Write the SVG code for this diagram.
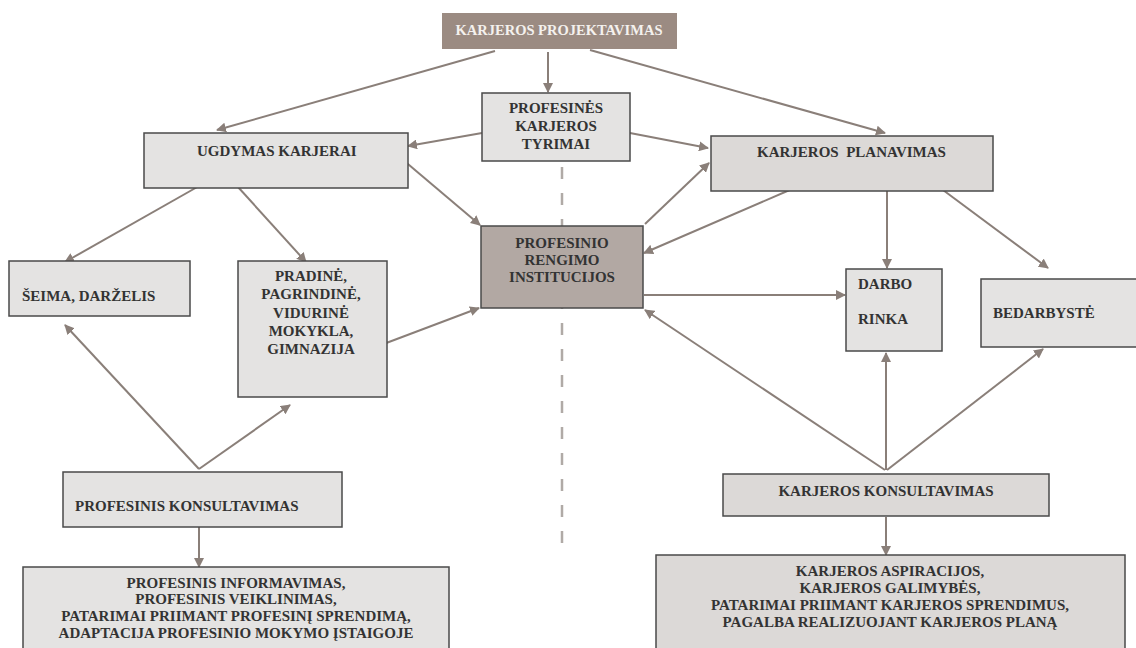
<svg xmlns="http://www.w3.org/2000/svg" width="1136" height="648" viewBox="0 0 1136 648">
<style>
.box{fill:#e4e3e2;stroke:#4a4a4a;stroke-width:1.5}
.mid{fill:#dcd9d7;stroke:#4a4a4a;stroke-width:1.5}
.dark{fill:#b2a8a3;stroke:#4a4a4a;stroke-width:1.5}
.top{fill:#9b8b82;stroke:none}
text{font-family:"Liberation Serif","Times New Roman",serif;font-weight:bold;font-size:15px;fill:#333}
.c{text-anchor:middle}
.w{fill:#f4f1ee;font-size:14.5px}
.conn line{stroke:#8a7f79;stroke-width:2;marker-end:url(#ah)}
</style>
<defs>
<marker id="ah" viewBox="0 0 10 10" refX="9" refY="5" markerWidth="5" markerHeight="5" orient="auto" markerUnits="strokeWidth">
<path d="M0,0 L10,5 L0,10 Z" fill="#8a7f79"/>
</marker>
</defs>
<rect width="1136" height="648" fill="#ffffff"/>
<line x1="562" y1="167" x2="562" y2="552" stroke="#b0aaa6" stroke-width="2.5" stroke-dasharray="12 14"/>
<g class="conn">
<line x1="495" y1="51" x2="217" y2="130"/>
<line x1="548" y1="52" x2="548" y2="92"/>
<line x1="590" y1="50" x2="885" y2="133"/>
<line x1="482" y1="133" x2="408" y2="146"/>
<line x1="630" y1="133" x2="708" y2="148"/>
<line x1="199" y1="186" x2="65" y2="262"/>
<line x1="238" y1="187" x2="306" y2="262"/>
<line x1="402" y1="159" x2="480" y2="225"/>
<line x1="373" y1="348" x2="479" y2="308"/>
<line x1="645" y1="224" x2="709" y2="163"/>
<line x1="792" y1="189" x2="644" y2="253"/>
<line x1="887" y1="191" x2="887" y2="268"/>
<line x1="943" y1="190" x2="1048" y2="268"/>
<line x1="644" y1="295" x2="845" y2="295"/>
<line x1="885" y1="470" x2="645" y2="310"/>
<line x1="886" y1="470" x2="886" y2="353"/>
<line x1="887" y1="470" x2="1043" y2="349"/>
<line x1="886" y1="517" x2="886" y2="555"/>
<line x1="199" y1="469" x2="65" y2="325"/>
<line x1="199" y1="469" x2="290" y2="405"/>
<line x1="199" y1="527" x2="199" y2="567"/>
</g>
<g id="projektavimas">
<rect class="top" x="442" y="13" width="235" height="36"/>
<text class="c w" x="559" y="35">KARJEROS PROJEKTAVIMAS</text>
</g>
<g id="tyrimai">
<rect class="box" x="482" y="93" width="148" height="68"/>
<text class="c" x="556" y="113">PROFESINĖS</text>
<text class="c" x="556" y="131">KARJEROS</text>
<text class="c" x="556" y="149">TYRIMAI</text>
</g>
<g id="ugdymas">
<rect class="box" x="144" y="133" width="264" height="55"/>
<text x="197" y="156">UGDYMAS KARJERAI</text>
</g>
<g id="seima">
<rect class="box" x="9" y="261" width="181" height="55"/>
<text x="22" y="301">ŠEIMA, DARŽELIS</text>
</g>
<g id="pradine">
<rect class="box" x="238" y="261" width="149" height="136"/>
<text class="c" x="311" y="281">PRADINĖ,</text>
<text class="c" x="311" y="299">PAGRINDINĖ,</text>
<text class="c" x="311" y="318">VIDURINĖ</text>
<text class="c" x="311" y="336">MOKYKLA,</text>
<text class="c" x="311" y="354">GIMNAZIJA</text>
</g>
<g id="rengimo">
<rect class="dark" x="481" y="226" width="162" height="82"/>
<text class="c" x="562" y="248">PROFESINIO</text>
<text class="c" x="562" y="265">RENGIMO</text>
<text class="c" x="562" y="282">INSTITUCIJOS</text>
</g>
<g id="planavimas">
<rect class="mid" x="711" y="136" width="282" height="55"/>
<text x="757" y="157" style="white-space:pre">KARJEROS  PLANAVIMAS</text>
</g>
<g id="darbo">
<rect class="box" x="846" y="269" width="96" height="82"/>
<text x="858" y="289">DARBO</text>
<text x="858" y="324">RINKA</text>
</g>
<g id="bedarbyste">
<rect class="box" x="981" y="279" width="160" height="68"/>
<text x="993" y="318">BEDARBYSTĖ</text>
</g>
<g id="prof-konsultavimas">
<rect class="box" x="63" y="472" width="279" height="55"/>
<text x="75" y="511">PROFESINIS KONSULTAVIMAS</text>
</g>
<g id="karj-konsultavimas">
<rect class="mid" x="723" y="474" width="326" height="42"/>
<text class="c" x="886" y="496">KARJEROS KONSULTAVIMAS</text>
</g>
<g id="prof-veiklos">
<rect class="box" x="23" y="567" width="426" height="90"/>
<text class="c" x="236" y="588">PROFESINIS INFORMAVIMAS,</text>
<text class="c" x="236" y="604">PROFESINIS VEIKLINIMAS,</text>
<text class="c" x="236" y="621">PATARIMAI PRIIMANT PROFESINĮ SPRENDIMĄ,</text>
<text class="c" x="236" y="638">ADAPTACIJA PROFESINIO MOKYMO ĮSTAIGOJE</text>
</g>
<g id="karj-veiklos">
<rect class="mid" x="656" y="555" width="469" height="100"/>
<text class="c" x="890" y="576">KARJEROS ASPIRACIJOS,</text>
<text class="c" x="890" y="593">KARJEROS GALIMYBĖS,</text>
<text class="c" x="890" y="610">PATARIMAI PRIIMANT KARJEROS SPRENDIMUS,</text>
<text class="c" x="890" y="627">PAGALBA REALIZUOJANT KARJEROS PLANĄ</text>
</g>
</svg>
